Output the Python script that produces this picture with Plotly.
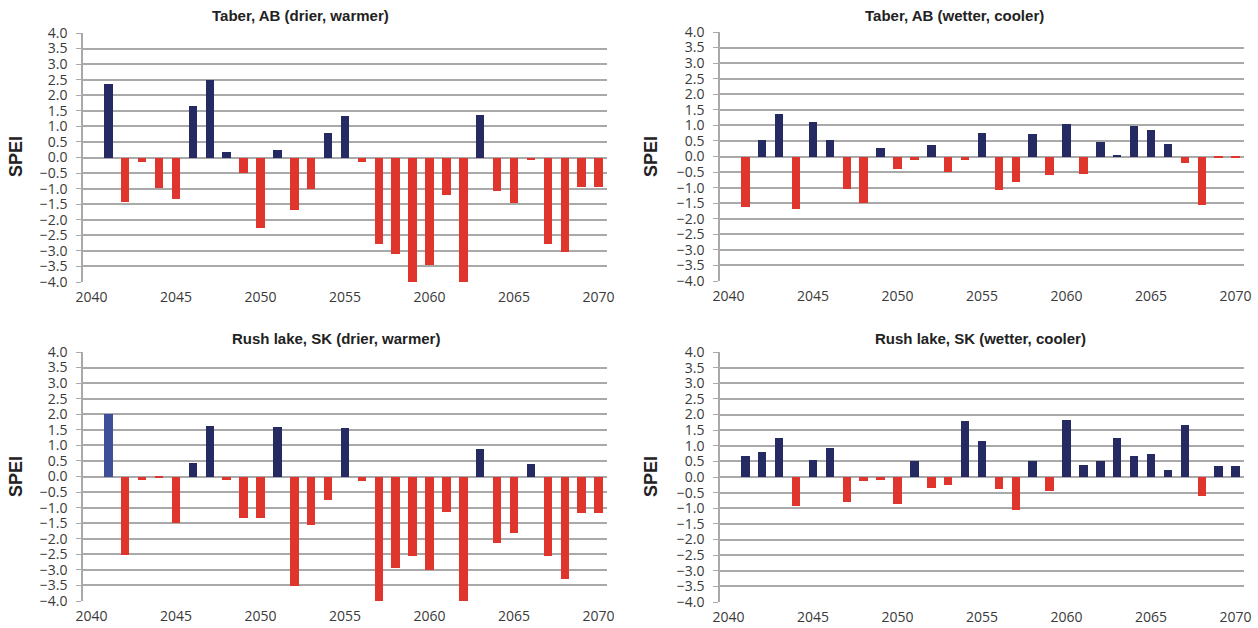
import plotly.graph_objects as go

# Standardised Precipitation-Evapotranspiration Index, annual, 2040-2070
years = list(range(2040, 2071))

taber_dry = [None, 2.37, -1.44, -0.15, -0.97, -1.34, 1.66, 2.50, 0.17, -0.51,
             -2.28, 0.25, -1.68, -1.00, 0.80, 1.32, -0.15, -2.78, -3.11, -4.13,
             -3.45, -1.22, -4.13, 1.35, -1.09, -1.45, -0.08, -2.78, -3.03, -0.95,
             -0.95]
taber_wet = [None, -1.61, 0.52, 1.38, -1.69, 1.10, 0.52, -1.05, -1.48, 0.26,
             -0.39, -0.10, 0.36, -0.51, -0.10, 0.77, -1.08, -0.82, 0.71, -0.61,
             1.04, -0.56, 0.46, 0.04, 0.97, 0.85, 0.41, -0.20, -1.57, -0.06,
             -0.06]
rush_dry = [None, 2.00, -2.51, -0.10, -0.03, -1.48, 0.42, 1.61, -0.12, -1.34,
            -1.34, 1.60, -3.53, -1.57, -0.75, 1.56, -0.14, -4.14, -2.94, -2.56,
            -3.01, -1.13, -4.14, 0.87, -2.14, -1.80, 0.41, -2.56, -3.30, -1.17,
            -1.17]
rush_wet = [None, 0.68, 0.81, 1.26, -0.94, 0.55, 0.94, -0.81, -0.14, -0.11,
            -0.86, 0.50, -0.35, -0.27, 1.79, 1.15, -0.38, -1.04, 0.50, -0.46,
            1.82, 0.37, 0.50, 1.26, 0.68, 0.75, 0.21, 1.65, -0.62, 0.34,
            0.34]

panel_titles = ["Taber, AB (drier, warmer)", "Taber, AB (wetter, cooler)",
                "Rush lake, SK (drier, warmer)", "Rush lake, SK (wetter, cooler)"]
y_ticks = [v / 2 for v in range(-8, 9)]
x_ticks = list(range(2040, 2071, 5))

NAVY = "#252a63"
RED = "#e0352d"
LIGHT_NAVY = "#3e4f98"
GRID = "#a9a9a9"
TICK_FONT = dict(family="Open Sans", size=14, color="#3a3a3a")

W, H = 1258, 628


def px(x):
    return x / W


def py(y):
    return 1 - y / H


# plot-area boxes in pixels: (left, right, top, bottom)
boxes = [(83, 607, 33, 282), (720, 1244, 32, 281),
         (83, 607, 352, 601), (720, 1244, 352, 602)]
series = [taber_dry, taber_wet, rush_dry, rush_wet]
title_pos = [(300, 16), (954, 15), (336, 338), (980, 338)]
spei_pos = [(16, 157), (651, 157), (16, 477), (651, 477)]

fig = go.Figure()
annotations = []

for i, (vals, box) in enumerate(zip(series, boxes)):
    n = "" if i == 0 else str(i + 1)
    colors = []
    for v in vals:
        if v is None or v >= 0:
            colors.append(NAVY)
        else:
            colors.append(RED)
    if i == 2:
        colors[1] = LIGHT_NAVY
    fig.add_trace(go.Bar(x=years, y=vals, width=0.5,
                         marker=dict(color=colors, line=dict(width=0)),
                         xaxis="x" + n, yaxis="y" + n, showlegend=False))
    l, r, t, b = box
    fig.layout["xaxis" + n] = dict(
        domain=[px(l), px(r)], range=[2039.5, 2070.5], anchor="y" + n,
        tickvals=x_ticks, ticks="", showgrid=False, showline=False,
        zeroline=False, tickfont=TICK_FONT, ticklabelstandoff=5,
        automargin=False)
    fig.layout["yaxis" + n] = dict(
        domain=[py(b), py(t)], range=[-4, 4], anchor="x" + n,
        tickvals=y_ticks, tickformat=".1f", showgrid=True, gridcolor=GRID,
        gridwidth=1.6, zeroline=False, showline=True, linecolor=GRID,
        linewidth=1.6, ticks="outside", ticklen=5, tickcolor=GRID,
        tickwidth=1.4, tickfont=TICK_FONT, ticklabelstandoff=6,
        automargin=False)
    tx, ty = title_pos[i]
    annotations.append(dict(text="<b>" + panel_titles[i] + "</b>",
                            x=px(tx), y=py(ty), xref="paper", yref="paper",
                            xanchor="center", yanchor="middle", showarrow=False,
                            font=dict(family="Liberation Sans", size=15,
                                      color="#222222")))
    sx, sy = spei_pos[i]
    annotations.append(dict(text="<b>SPEI</b>", x=px(sx), y=py(sy),
                            xref="paper", yref="paper", xanchor="center",
                            yanchor="middle", textangle=-90, showarrow=False,
                            font=dict(family="Liberation Sans", size=18,
                                      color="#222222")))

fig.update_layout(width=W, height=H, margin=dict(l=0, r=0, t=0, b=0),
                  paper_bgcolor="white", plot_bgcolor="white",
                  annotations=annotations, bargap=0)

fig.write_html("out.html")
